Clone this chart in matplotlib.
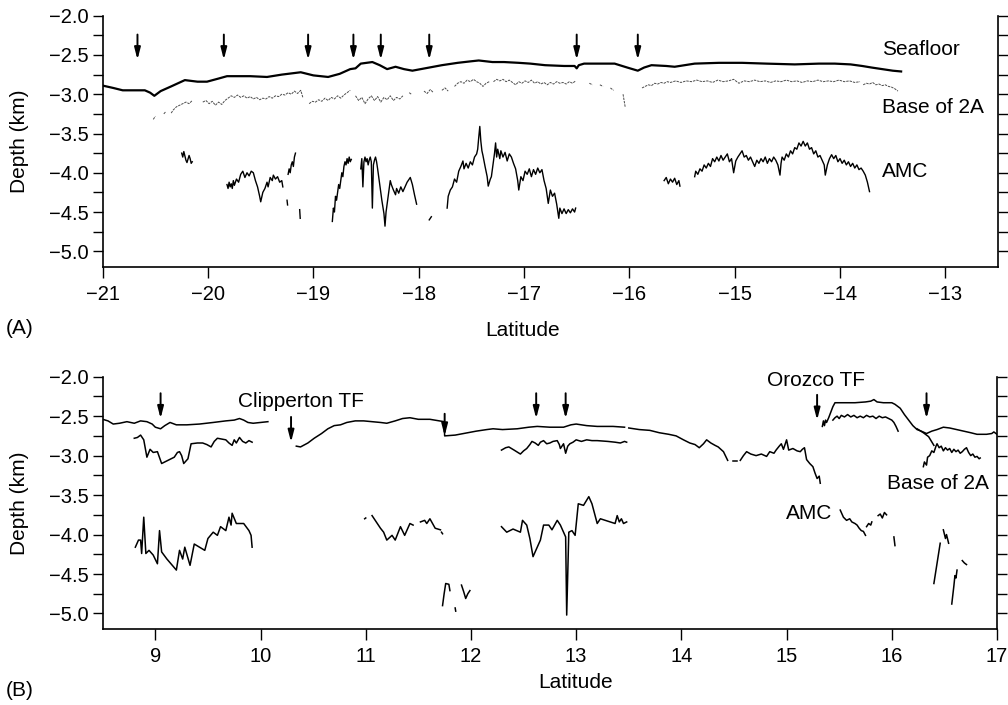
"""
Depth profiles along the ridge axis: seafloor, base of layer 2A and AMC
for the southern (A) and northern (B) sections.
"""
import numpy as np
import matplotlib.pyplot as plt
from matplotlib.ticker import MultipleLocator, FuncFormatter

plt.rcParams['font.family'] = ['Liberation Sans', 'DejaVu Sans']

nan = np.nan

# ---------------- Panel A (southern section) ----------------
A_SEAFLOOR = [(-21.00, -2.89), (-20.90, -2.92), (-20.81, -2.95), (-20.70, -2.95), (-20.60, -2.95),
              (-20.55, -2.98), (-20.51, -3.02), (-20.45, -2.96), (-20.35, -2.90), (-20.22, -2.82),
              (-20.10, -2.84), (-20.01, -2.84), (-19.90, -2.80), (-19.82, -2.77), (-19.60, -2.77),
              (-19.44, -2.78), (-19.30, -2.75), (-19.12, -2.72), (-19.00, -2.76), (-18.86, -2.78),
              (-18.75, -2.74), (-18.65, -2.68), (-18.60, -2.67), (-18.55, -2.61), (-18.44, -2.59),
              (-18.37, -2.63), (-18.30, -2.68), (-18.22, -2.65), (-18.14, -2.68), (-18.06, -2.70),
              (-17.98, -2.68), (-17.90, -2.66), (-17.78, -2.63), (-17.63, -2.60), (-17.50, -2.58),
              (-17.43, -2.57), (-17.30, -2.59), (-17.19, -2.59), (-17.05, -2.60), (-16.94, -2.61),
              (-16.80, -2.63), (-16.62, -2.64), (-16.52, -2.64), (-16.50, -2.67), (-16.48, -2.63),
              (-16.43, -2.61), (-16.25, -2.61), (-16.14, -2.61), (-16.02, -2.66), (-15.92, -2.70),
              (-15.86, -2.66), (-15.79, -2.63), (-15.65, -2.64), (-15.57, -2.65), (-15.38, -2.61),
              (-15.15, -2.60), (-14.93, -2.60), (-14.70, -2.61), (-14.43, -2.62), (-14.20, -2.61),
              (-14.05, -2.61), (-13.90, -2.62), (-13.79, -2.64), (-13.70, -2.66), (-13.60, -2.68),
              (-13.50, -2.70), (-13.42, -2.71)]

A_BASE2A = [(-20.52, -3.32), (-20.50, -3.28), (nan, nan), (-20.42, -3.25), (-20.40, -3.22), (nan, nan),
            (-20.35, -3.24), (-20.33, -3.20), (-20.30, -3.16), (-20.27, -3.14), (-20.24, -3.12),
            (-20.21, -3.10), (-20.18, -3.12), (-20.15, -3.08), (nan, nan),
            (-20.05, -3.10), (-20.02, -3.08), (-19.99, -3.12), (-19.96, -3.09), (-19.93, -3.14),
            (-19.90, -3.10), (-19.87, -3.13), (-19.84, -3.08), (-19.81, -3.05), (-19.78, -3.02),
            (-19.75, -3.04), (-19.72, -3.01), (-19.69, -3.04), (-19.66, -3.02), (-19.63, -3.05),
            (-19.60, -3.03), (-19.57, -3.06), (-19.54, -3.04), (-19.51, -3.07), (-19.48, -3.05),
            (-19.45, -3.06), (-19.42, -3.03), (-19.39, -3.05), (-19.36, -3.02), (-19.33, -3.03),
            (-19.30, -3.00), (-19.27, -3.01), (-19.24, -2.98), (-19.21, -3.00), (-19.18, -2.96),
            (-19.15, -2.99), (-19.12, -2.95), (-19.10, -3.04), (nan, nan),
            (-19.04, -3.12), (-19.01, -3.09), (-18.98, -3.10), (-18.95, -3.07), (-18.92, -3.09),
            (-18.89, -3.05), (-18.86, -3.08), (-18.83, -3.04), (-18.80, -3.06), (-18.77, -3.02),
            (-18.74, -3.05), (-18.71, -3.01), (-18.68, -2.98), (-18.65, -2.95), (nan, nan),
            (-18.60, -3.02), (-18.57, -3.08), (-18.54, -3.04), (-18.51, -3.12), (-18.48, -3.06),
            (-18.45, -3.02), (-18.42, -3.08), (-18.39, -3.03), (-18.36, -3.10), (-18.33, -3.04),
            (-18.30, -3.07), (-18.27, -3.02), (-18.24, -3.08), (-18.21, -3.04), (-18.18, -3.06),
            (-18.15, -3.02), (nan, nan), (-18.09, -2.98), (-18.07, -3.00), (nan, nan),
            (-17.95, -2.96), (-17.92, -2.99), (-17.89, -2.94), (-17.86, -2.98), (nan, nan),
            (-17.78, -2.95), (-17.75, -2.92), (-17.72, -2.96), (nan, nan),
            (-17.66, -2.90), (-17.63, -2.86), (-17.60, -2.84), (-17.57, -2.86), (-17.54, -2.82),
            (-17.51, -2.84), (-17.48, -2.81), (-17.45, -2.84), (-17.42, -2.86), (-17.39, -2.90),
            (-17.36, -2.86), (-17.33, -2.84), (nan, nan),
            (-17.29, -2.84), (-17.26, -2.81), (-17.23, -2.83), (-17.20, -2.81), (-17.17, -2.84),
            (-17.14, -2.82), (-17.11, -2.85), (-17.08, -2.88), (-17.05, -2.84), (-17.02, -2.86),
            (-16.99, -2.83), (-16.96, -2.85), (-16.93, -2.82), (-16.90, -2.86), (-16.87, -2.84),
            (-16.84, -2.87), (-16.81, -2.85), (-16.78, -2.88), (-16.75, -2.85), (-16.72, -2.87),
            (-16.69, -2.84), (-16.66, -2.86), (-16.63, -2.85), (-16.60, -2.87), (-16.57, -2.84),
            (-16.54, -2.86), (-16.51, -2.83), (nan, nan),
            (-16.38, -2.86), (-16.35, -2.88), (nan, nan), (-16.28, -2.88), (-16.25, -2.90), (nan, nan),
            (-16.18, -2.92), (-16.15, -2.95), (nan, nan), (-16.06, -3.00), (-16.05, -3.08),
            (-16.04, -3.16), (nan, nan),
            (-15.88, -2.92), (-15.85, -2.90), (-15.82, -2.88), (-15.79, -2.89), (-15.76, -2.86),
            (-15.73, -2.87), (-15.70, -2.85), (-15.67, -2.86), (-15.64, -2.84), (-15.61, -2.85),
            (-15.56, -2.83), (-15.51, -2.85), (-15.46, -2.83), (-15.41, -2.84), (-15.36, -2.82),
            (-15.31, -2.84), (-15.26, -2.83), (-15.21, -2.85), (-15.16, -2.82), (-15.11, -2.84),
            (-15.06, -2.83), (-15.01, -2.81), (-14.96, -2.86), (-14.91, -2.83), (-14.86, -2.84),
            (-14.81, -2.82), (-14.76, -2.84), (-14.71, -2.83), (-14.66, -2.85), (-14.61, -2.83),
            (-14.56, -2.84), (-14.51, -2.82), (-14.46, -2.84), (-14.41, -2.83), (-14.36, -2.85),
            (-14.31, -2.83), (-14.26, -2.84), (-14.21, -2.82), (-14.16, -2.84), (-14.11, -2.83),
            (-14.06, -2.84), (-14.01, -2.82), (-13.96, -2.84), (-13.91, -2.83), (-13.86, -2.85),
            (-13.81, -2.84), (nan, nan),
            (-13.78, -2.88), (-13.75, -2.86), (-13.72, -2.87), (-13.69, -2.85), (-13.66, -2.88),
            (-13.63, -2.87), (-13.60, -2.89), (-13.57, -2.88), (-13.54, -2.90), (-13.51, -2.91),
            (-13.48, -2.93), (-13.45, -2.96)]

A_AMC = [
    [(-20.25, -3.75), (-20.24, -3.80), (-20.23, -3.73), (-20.21, -3.84), (-20.20, -3.87),
     (-20.18, -3.78), (-20.17, -3.82), (-20.16, -3.88), (-20.15, -3.86)],
    [(-19.82, -4.15), (-19.81, -4.20), (-19.80, -4.12), (-19.79, -4.18), (-19.78, -4.14),
     (-19.77, -4.20), (-19.76, -4.10), (-19.75, -4.16), (-19.73, -4.08), (-19.71, -4.12),
     (-19.69, -4.02), (-19.67, -3.98), (-19.65, -4.06), (-19.63, -4.00), (-19.61, -4.04),
     (-19.59, -3.98), (-19.57, -4.00), (-19.55, -4.10), (-19.53, -4.18), (-19.51, -4.30),
     (-19.50, -4.37), (-19.48, -4.25), (-19.46, -4.20), (-19.44, -4.12), (-19.43, -4.18),
     (-19.41, -4.06), (-19.39, -4.10), (-19.38, -4.03), (-19.36, -4.08), (-19.34, -4.05),
     (-19.32, -4.12), (-19.30, -4.10), (-19.29, -4.18)],
    [(-19.24, -4.02), (-19.23, -3.95), (-19.22, -4.00), (-19.21, -3.90), (-19.20, -3.86),
     (-19.19, -3.92), (-19.18, -3.80), (-19.17, -3.75)],
    [(-19.25, -4.35), (-19.245, -4.41)],
    [(-19.13, -4.47), (-19.125, -4.58)],
    [(-18.82, -4.62), (-18.81, -4.45), (-18.80, -4.50), (-18.79, -4.30), (-18.78, -4.35),
     (-18.76, -4.15), (-18.75, -4.20), (-18.73, -4.00), (-18.72, -4.05), (-18.71, -3.92),
     (-18.70, -3.86), (-18.69, -3.90), (-18.68, -3.82), (-18.67, -3.88), (-18.66, -3.80),
     (-18.65, -3.86), (-18.64, -3.83)],
    [(-18.55, -3.95), (-18.54, -3.82), (-18.53, -4.18), (-18.52, -3.86), (-18.51, -3.80),
     (-18.50, -3.86), (-18.49, -3.82), (-18.48, -3.90), (-18.47, -3.84), (-18.46, -3.80),
     (-18.45, -3.86), (-18.44, -4.45), (-18.43, -3.90), (-18.42, -3.84), (-18.41, -3.80),
     (-18.40, -3.86), (-18.39, -3.95), (-18.37, -4.15), (-18.35, -4.35), (-18.33, -4.52),
     (-18.32, -4.68), (-18.31, -4.50), (-18.29, -4.30), (-18.27, -4.10), (-18.26, -4.15),
     (-18.24, -4.22), (-18.22, -4.28), (-18.21, -4.20), (-18.19, -4.26), (-18.17, -4.18),
     (-18.15, -4.24), (-18.13, -4.18), (-18.11, -4.12), (-18.09, -4.08), (-18.08, -4.06),
     (-18.06, -4.15), (-18.04, -4.28), (-18.02, -4.40)],
    [(-17.90, -4.60), (-17.88, -4.56)],
    [(-17.73, -4.45), (-17.72, -4.30), (-17.70, -4.22), (-17.68, -4.18), (-17.66, -4.08),
     (-17.64, -4.12), (-17.62, -3.98), (-17.60, -3.92), (-17.58, -3.85), (-17.57, -3.95),
     (-17.55, -3.88), (-17.53, -3.94), (-17.51, -3.86), (-17.49, -3.90), (-17.47, -3.80),
     (-17.45, -3.76), (-17.44, -3.70), (-17.43, -3.55), (-17.42, -3.41), (-17.41, -3.60),
     (-17.40, -3.72), (-17.39, -3.78), (-17.37, -3.92), (-17.35, -4.05), (-17.34, -4.17),
     (-17.32, -4.08), (-17.31, -4.05), (-17.29, -3.85), (-17.28, -3.75), (-17.27, -3.62),
     (-17.26, -3.80), (-17.25, -3.70), (-17.23, -3.82), (-17.22, -3.72), (-17.20, -3.80),
     (-17.18, -3.74), (-17.16, -3.85), (-17.14, -3.76), (-17.12, -3.80), (-17.10, -3.88),
     (-17.08, -3.95), (-17.06, -4.10), (-17.05, -4.22), (-17.03, -4.05), (-17.01, -4.10),
     (-16.99, -3.98), (-16.97, -4.02), (-16.95, -3.95), (-16.93, -4.05), (-16.91, -3.96),
     (-16.89, -4.02), (-16.87, -3.94), (-16.85, -4.00), (-16.83, -3.96), (-16.81, -4.10),
     (-16.79, -4.20), (-16.77, -4.39), (-16.75, -4.22), (-16.73, -4.30), (-16.71, -4.26),
     (-16.69, -4.40), (-16.67, -4.58), (-16.66, -4.45), (-16.64, -4.52), (-16.62, -4.46),
     (-16.60, -4.52), (-16.58, -4.47), (-16.56, -4.51), (-16.54, -4.46), (-16.52, -4.50),
     (-16.51, -4.45)],
    [(-15.67, -4.10), (-15.65, -4.06), (-15.63, -4.14), (-15.61, -4.08), (-15.59, -4.12),
     (-15.57, -4.07), (-15.55, -4.15), (-15.53, -4.10), (-15.52, -4.17)],
    [(-15.38, -4.05), (-15.37, -3.98), (-15.35, -4.02), (-15.33, -3.95), (-15.31, -3.98),
     (-15.29, -3.90), (-15.27, -3.94), (-15.25, -3.88), (-15.23, -3.92), (-15.21, -3.82),
     (-15.19, -3.86), (-15.17, -3.80), (-15.15, -3.85), (-15.13, -3.78), (-15.11, -3.84),
     (-15.09, -3.80), (-15.07, -3.76), (-15.05, -3.86), (-15.03, -3.82), (-15.01, -4.00),
     (-14.99, -3.85), (-14.97, -3.80), (-14.95, -3.76), (-14.93, -3.72), (-14.91, -3.80),
     (-14.89, -3.78), (-14.87, -3.84), (-14.85, -3.80), (-14.83, -3.86), (-14.81, -3.92),
     (-14.79, -3.84), (-14.77, -3.88), (-14.75, -3.82), (-14.73, -3.86), (-14.71, -3.80),
     (-14.69, -3.88), (-14.67, -3.82), (-14.65, -3.86), (-14.63, -3.80), (-14.61, -3.84),
     (-14.59, -3.90), (-14.57, -4.03), (-14.56, -3.88), (-14.55, -3.80), (-14.53, -3.84),
     (-14.51, -3.76), (-14.49, -3.80), (-14.47, -3.72), (-14.45, -3.76), (-14.43, -3.68),
     (-14.41, -3.70), (-14.39, -3.62), (-14.37, -3.66), (-14.35, -3.60), (-14.33, -3.66),
     (-14.31, -3.62), (-14.29, -3.70), (-14.27, -3.68), (-14.25, -3.76), (-14.23, -3.72),
     (-14.21, -3.80), (-14.19, -3.78), (-14.17, -3.84), (-14.15, -3.90), (-14.14, -4.03),
     (-14.12, -3.90), (-14.10, -3.82), (-14.08, -3.77), (-14.06, -3.82), (-14.04, -3.78),
     (-14.02, -3.86), (-14.00, -3.82), (-13.98, -3.88), (-13.96, -3.84), (-13.94, -3.90),
     (-13.92, -3.86), (-13.90, -3.92), (-13.88, -3.88), (-13.86, -3.94), (-13.84, -3.90),
     (-13.82, -3.96), (-13.80, -3.94), (-13.78, -3.98), (-13.76, -4.03), (-13.74, -4.12),
     (-13.72, -4.24)],
]

A_ARROWS = [-20.67, -19.85, -19.05, -18.62, -18.36, -17.90, -16.50, -15.92]

# ---------------- Panel B (northern section) ----------------
B_SEAFLOOR = [
    [(8.50, -2.54), (8.55, -2.56), (8.60, -2.60), (8.66, -2.59), (8.73, -2.57), (8.80, -2.59),
     (8.86, -2.56), (8.92, -2.57), (8.97, -2.60), (9.00, -2.64), (9.05, -2.66), (9.09, -2.62),
     (9.14, -2.58), (9.20, -2.61), (9.30, -2.61), (9.42, -2.60), (9.55, -2.58), (9.67, -2.56),
     (9.75, -2.55), (9.80, -2.53), (9.84, -2.55), (9.88, -2.58), (9.93, -2.59), (10.00, -2.58),
     (10.07, -2.57)],
    [(10.34, -2.88), (10.38, -2.89), (10.45, -2.84), (10.51, -2.78), (10.58, -2.72), (10.64, -2.66),
     (10.70, -2.62), (10.76, -2.61), (10.82, -2.58), (10.90, -2.56), (10.98, -2.56), (11.06, -2.57),
     (11.14, -2.58), (11.20, -2.59), (11.28, -2.56), (11.35, -2.53), (11.42, -2.52), (11.50, -2.54),
     (11.61, -2.54), (11.70, -2.56), (11.745, -2.57), (11.75, -2.75), (11.85, -2.74), (11.93, -2.72),
     (12.05, -2.69), (12.15, -2.67), (12.21, -2.66), (12.30, -2.67), (12.44, -2.66), (12.55, -2.64),
     (12.63, -2.63), (12.75, -2.64), (12.88, -2.64), (12.95, -2.61), (13.00, -2.60), (13.10, -2.62),
     (13.20, -2.63), (13.35, -2.63), (13.46, -2.64)],
    [(13.50, -2.65), (13.60, -2.67), (13.70, -2.68), (13.79, -2.71), (13.88, -2.73), (13.95, -2.75),
     (14.02, -2.80), (14.08, -2.84), (14.13, -2.86), (14.17, -2.90), (14.21, -2.85), (14.24, -2.80),
     (14.28, -2.84), (14.32, -2.87), (14.35, -2.89), (14.40, -2.95), (14.44, -3.06)],
    [(14.49, -3.07), (14.53, -3.07)],
    [(14.56, -3.06), (14.59, -3.00), (14.62, -2.95), (14.66, -2.98), (14.71, -3.00), (14.76, -2.98),
     (14.81, -3.01), (14.84, -2.95), (14.88, -2.97), (14.90, -2.93), (14.93, -2.88), (14.95, -2.85),
     (14.97, -2.92), (15.00, -2.80), (15.02, -2.93), (15.06, -2.91), (15.10, -2.94), (15.13, -2.95),
     (15.15, -2.92), (15.17, -2.90), (15.19, -3.05), (15.22, -3.10), (15.25, -3.14), (15.27, -3.22),
     (15.29, -3.29), (15.31, -3.26), (15.32, -3.35)],
    [(15.34, -2.63), (15.35, -2.56), (15.36, -2.62), (15.37, -2.55), (15.38, -2.58), (15.40, -2.52),
     (15.42, -2.45), (15.44, -2.38), (15.46, -2.33), (15.55, -2.33), (15.65, -2.33), (15.75, -2.32),
     (15.80, -2.31), (15.83, -2.29), (15.86, -2.32), (15.92, -2.33), (16.00, -2.33), (16.03, -2.35),
     (16.08, -2.40), (16.12, -2.48), (16.16, -2.55), (16.20, -2.62), (16.24, -2.67), (16.28, -2.69),
     (16.33, -2.72), (16.38, -2.69), (16.43, -2.67), (16.49, -2.64), (16.55, -2.65), (16.65, -2.68),
     (16.75, -2.71), (16.81, -2.73), (16.90, -2.73), (16.95, -2.72), (16.97, -2.70), (17.00, -2.73)],
]

B_BASE2A = [
    [(8.80, -2.78), (8.83, -2.77), (8.86, -2.74), (8.89, -2.80), (8.92, -3.02), (8.95, -2.92),
     (8.98, -2.96), (9.02, -2.95), (9.06, -3.10), (9.12, -3.06), (9.18, -3.02), (9.21, -2.96),
     (9.23, -2.95), (9.25, -3.00), (9.27, -3.10), (9.31, -3.04), (9.34, -2.85), (9.40, -2.84),
     (9.45, -2.84), (9.49, -2.86), (9.53, -2.89), (9.56, -2.82), (9.59, -2.78), (9.63, -2.79),
     (9.67, -2.80), (9.70, -2.84), (9.73, -2.87), (9.75, -2.80), (9.77, -2.84), (9.80, -2.77),
     (9.83, -2.82), (9.86, -2.84), (9.89, -2.81), (9.92, -2.83)],
    [(12.29, -2.93), (12.33, -2.90), (12.36, -2.89), (12.41, -2.93), (12.47, -2.98), (12.50, -2.94),
     (12.53, -2.91), (12.56, -2.86), (12.58, -2.82), (12.61, -2.84), (12.64, -2.87), (12.66, -2.83),
     (12.69, -2.81), (12.72, -2.85), (12.75, -2.84), (12.78, -2.82), (12.82, -2.81), (12.84, -2.86),
     (12.85, -2.91), (12.88, -2.85), (12.90, -2.97), (12.92, -2.88), (12.94, -2.85), (12.97, -2.83),
     (13.00, -2.80), (13.05, -2.82), (13.10, -2.80), (13.15, -2.81), (13.20, -2.81), (13.30, -2.82),
     (13.37, -2.83), (13.42, -2.84), (13.46, -2.82), (13.48, -2.83)],
    [(15.44, -2.55), (15.46, -2.52), (15.48, -2.50), (15.50, -2.53), (15.52, -2.49), (15.55, -2.51),
     (15.58, -2.48), (15.61, -2.51), (15.64, -2.49), (15.67, -2.52), (15.70, -2.50), (15.73, -2.52),
     (15.76, -2.49), (15.79, -2.51), (15.82, -2.50), (15.85, -2.53), (15.88, -2.50), (15.91, -2.52),
     (15.94, -2.51), (15.97, -2.53), (16.00, -2.55), (16.02, -2.58), (16.04, -2.63), (16.06, -2.69)],
    [(16.24, -2.66), (16.30, -2.71), (16.35, -2.76), (16.40, -2.87)],
    [(16.30, -3.14), (16.31, -3.08), (16.33, -3.12), (16.34, -3.02), (16.36, -3.00), (16.38, -2.94),
     (16.40, -2.96), (16.42, -2.88), (16.43, -2.85), (16.45, -2.90), (16.47, -2.88), (16.49, -2.94),
     (16.51, -2.90), (16.53, -2.93), (16.55, -2.91), (16.57, -2.96), (16.59, -2.92), (16.61, -2.95),
     (16.63, -2.93), (16.65, -2.97), (16.67, -2.95), (16.69, -2.92), (16.71, -2.90), (16.73, -2.96),
     (16.75, -3.00), (16.77, -2.98), (16.79, -3.02), (16.81, -3.01), (16.83, -3.04), (16.84, -3.03)],
]

B_AMC = [
    [(8.81, -4.16), (8.84, -4.07), (8.86, -4.07), (8.87, -4.24), (8.89, -3.78), (8.91, -4.24),
     (8.94, -4.20), (8.98, -4.26), (9.02, -4.37), (9.04, -3.95), (9.06, -4.22), (9.11, -4.31),
     (9.20, -4.45), (9.23, -4.20), (9.26, -4.31), (9.28, -4.16), (9.33, -4.39), (9.37, -4.12),
     (9.47, -4.20), (9.50, -4.05), (9.55, -3.97), (9.59, -4.01), (9.62, -3.90), (9.67, -3.95),
     (9.70, -3.78), (9.72, -3.88), (9.73, -3.73), (9.77, -3.86), (9.84, -3.86), (9.89, -3.95),
     (9.91, -4.01), (9.92, -4.16)],
    [(10.99, -3.80), (11.00, -3.79)],
    [(11.06, -3.76), (11.10, -3.84), (11.14, -3.92), (11.17, -3.97), (11.20, -4.07), (11.25, -4.01),
     (11.28, -4.07), (11.33, -3.90), (11.37, -4.01), (11.42, -3.86), (11.45, -3.88)],
    [(11.52, -3.84), (11.56, -3.82), (11.58, -3.86), (11.61, -3.80), (11.66, -3.92), (11.71, -3.94)],
    [(11.72, -3.97), (11.73, -3.99)],
    [(11.73, -4.90), (11.745, -4.75), (11.76, -4.62), (11.79, -4.63), (11.80, -4.71)],
    [(11.85, -4.93), (11.855, -4.97)],
    [(11.91, -4.64), (11.93, -4.72), (11.95, -4.81), (11.97, -4.75), (11.99, -4.71)],
    [(12.29, -3.90), (12.34, -3.97), (12.40, -3.93), (12.47, -3.97), (12.49, -3.82), (12.53, -3.88),
     (12.56, -4.05), (12.59, -4.28), (12.66, -4.07), (12.69, -3.88), (12.74, -3.88), (12.77, -3.94),
     (12.82, -3.82), (12.85, -3.88), (12.88, -3.97), (12.90, -4.03), (12.91, -5.02), (12.93, -3.97),
     (12.96, -3.95), (12.99, -4.01), (13.02, -3.61), (13.07, -3.63), (13.12, -3.52), (13.15, -3.61),
     (13.20, -3.86), (13.23, -3.80), (13.37, -3.86), (13.39, -3.76), (13.41, -3.84), (13.43, -3.80),
     (13.45, -3.86), (13.48, -3.84)],
    [(15.51, -3.69), (15.54, -3.78), (15.57, -3.82), (15.60, -3.80), (15.62, -3.84), (15.65, -3.86),
     (15.67, -3.88), (15.69, -3.92), (15.71, -3.95), (15.73, -3.96), (15.75, -4.01)],
    [(15.76, -3.90), (15.78, -3.86), (15.80, -3.88), (15.81, -3.84)],
    [(15.87, -3.76), (15.89, -3.74), (15.91, -3.79), (15.93, -3.72), (15.95, -3.75)],
    [(16.02, -4.03), (16.03, -4.14)],
    [(16.40, -4.62), (16.42, -4.45), (16.44, -4.28), (16.46, -4.11)],
    [(16.49, -3.94), (16.51, -4.05), (16.52, -4.00), (16.54, -4.11)],
    [(16.57, -4.88), (16.59, -4.65), (16.60, -4.52), (16.61, -4.55), (16.62, -4.45)],
    [(16.67, -4.33), (16.69, -4.36), (16.71, -4.38)],
]

# (latitude, arrow tail depth, arrow tip depth)
B_ARROWS = [(9.05, -2.21, -2.53), (10.29, -2.51, -2.83), (11.75, -2.47, -2.75),
            (12.62, -2.21, -2.53), (12.90, -2.21, -2.53), (15.29, -2.23, -2.55),
            (16.33, -2.21, -2.53)]

TICK_FS = 14.5
TEXT_FS = 15


def plot_lines(ax, segments, **kw):
    for seg in segments:
        arr = np.array(seg, dtype=float)
        ax.plot(arr[:, 0], arr[:, 1], **kw)


def draw_arrow(ax, x, y0, y1):
    ax.annotate('', xy=(x, y1), xytext=(x, y0),
                arrowprops=dict(arrowstyle='-|>,head_length=0.7,head_width=0.18',
                                color='k', lw=1.4, shrinkA=0, shrinkB=0))


def style_axis(ax, xlim, xticks):
    ax.set_xlim(*xlim)
    ax.set_ylim(-5.2, -2.0)
    ax.set_xticks(xticks)
    ax.set_yticks(np.arange(-5.0, -1.99, 0.5))
    ax.yaxis.set_minor_locator(MultipleLocator(0.25))
    ax.yaxis.set_major_formatter(FuncFormatter(lambda v, p: f'{v:.1f}'.replace('-', '\u2212')))
    ax.spines['top'].set_visible(False)
    for s in ['left', 'right', 'bottom']:
        ax.spines[s].set_linewidth(1.2)
    ax.tick_params(axis='y', which='both', direction='out', length=7, width=1.0,
                   right=True, labelright=False, labelsize=TICK_FS, pad=3)
    ax.tick_params(axis='x', direction='out', length=8, width=1.0, labelsize=TICK_FS, pad=5)
    ax.set_ylabel('Depth (km)', fontsize=TEXT_FS)
    ax.yaxis.set_label_coords(-0.082, 0.5)


fig = plt.figure(figsize=(10.08, 7.05), dpi=100)

# ---- Panel A ----
axA = fig.add_axes([0.1019, 0.6213, 0.8882, 0.3564])
A_sea = np.array(A_SEAFLOOR)
axA.plot(A_sea[:, 0], A_sea[:, 1], color='k', lw=1.6)
A_base = np.array(A_BASE2A, dtype=float)
axA.plot(A_base[:, 0], A_base[:, 1], color='0.3', lw=0.7, ls=(0, (2.5, 1.0)))
plot_lines(axA, A_AMC, color='k', lw=1.0)
for lat in A_ARROWS:
    draw_arrow(axA, lat, -2.24, -2.56)
axA.text(-13.60, -2.43, 'Seafloor', fontsize=TEXT_FS, va='center', ha='left')
axA.text(-13.60, -3.17, 'Base of 2A', fontsize=TEXT_FS, va='center', ha='left')
axA.text(-13.60, -3.99, 'AMC', fontsize=TEXT_FS, va='center', ha='left')
style_axis(axA, (-21, -12.5), np.arange(-21, -12, 1))

# ---- Panel B ----
axB = fig.add_axes([0.1019, 0.1074, 0.8872, 0.3583])
plot_lines(axB, B_SEAFLOOR, color='k', lw=1.1)
plot_lines(axB, B_BASE2A, color='k', lw=1.1)
plot_lines(axB, B_AMC, color='k', lw=1.1)
for lat, y0, y1 in B_ARROWS:
    draw_arrow(axB, lat, y0, y1)
axB.text(9.79, -2.32, 'Clipperton TF', fontsize=TEXT_FS, va='center', ha='left')
axB.text(14.81, -2.05, 'Orozco TF', fontsize=TEXT_FS, va='center', ha='left')
axB.text(15.95, -3.35, 'Base of 2A', fontsize=TEXT_FS, va='center', ha='left')
axB.text(14.99, -3.73, 'AMC', fontsize=TEXT_FS, va='center', ha='left')
style_axis(axB, (8.5, 17), np.arange(9, 18, 1))

# x labels and panel letters placed in figure pixels
fig.text(523 / 1008, 1 - 330 / 705, 'Latitude', fontsize=TEXT_FS, ha='center', va='center')
fig.text(576 / 1008, 1 - 683 / 705, 'Latitude', fontsize=TEXT_FS, ha='center', va='center')
fig.text(6 / 1008, 1 - 329 / 705, '(A)', fontsize=TEXT_FS, ha='left', va='center')
fig.text(6 / 1008, 1 - 691 / 705, '(B)', fontsize=TEXT_FS, ha='left', va='center')

fig.savefig('out.png', dpi=100)
